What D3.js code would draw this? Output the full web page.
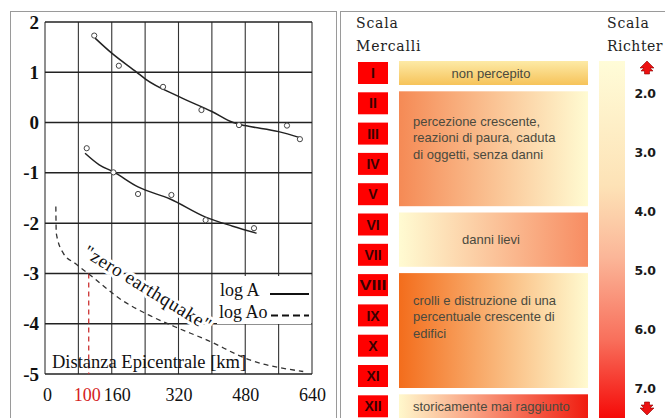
<!DOCTYPE html>
<html>
<head>
<meta charset="utf-8">
<script src="https://cdn.jsdelivr.net/npm/d3@7"></script>
<style>
  body { margin: 0; background: #fff; }
  svg { display: block; }
</style>
</head>
<body>
<script>
// ---- data ----
const xTicks = [0, 100, 160, 320, 480, 640];
const xGrid = [0, 80, 160, 240, 320, 400, 480, 560, 640];
const yTicks = [2, 1, 0, -1, -2, -3, -4, -5];

// log A, first event: measured points and the fitted curve
const logA1Points = [[118, 1.73], [177, 1.13], [283, 0.71], [375, 0.25], [465, -0.05], [580, -0.06], [611, -0.33]];
const logA1Curve = [[120, 1.68], [160, 1.38], [220, 1.0], [240, 0.87], [320, 0.52], [400, 0.22], [451, 0.0], [480, -0.06], [560, -0.18], [611, -0.3]];
// log A, second event
const logA2Points = [[100, -0.51], [164, -0.99], [223, -1.42], [303, -1.44], [385, -1.94], [501, -2.1]];
const logA2Curve = [[96, -0.61], [130, -0.84], [164, -0.98], [223, -1.28], [300, -1.52], [385, -1.88], [450, -2.06], [507, -2.2]];
// log Ao, "zero earthquake"
const logAoCurve = [[26, -1.67], [27, -2.2], [44, -2.6], [72, -2.8], [108, -3.03], [184, -3.53], [247, -3.82], [311, -4.06], [387, -4.32], [491, -4.72], [619, -4.95]];
const refDistance = 100;

const mercalli = ["I", "II", "III", "IV", "V", "VI", "VII", "VIII", "IX", "X", "XI", "XII"];
const effects = [
  { from: "I", to: "I", lines: ["non percepito"], align: "middle" },
  { from: "II", to: "V", lines: ["percezione crescente,", "reazioni di paura, caduta", "di oggetti, senza danni"], align: "start" },
  { from: "VI", to: "VII", lines: ["danni lievi"], align: "middle" },
  { from: "VIII", to: "XI", lines: ["crolli e distruzione di una", "percentuale crescente di", "edifici"], align: "start" },
  { from: "XII", to: "XII", lines: ["storicamente mai raggiunto"], align: "start" }
];
const richterTicks = [2, 3, 4, 5, 6, 7];

// ---- drawing ----
const W = 665, H = 418;
const svg = d3.select("body").append("svg").attr("width", W).attr("height", H);
const defs = svg.append("defs");

// panel frames
svg.append("rect").attr("x", 10.5).attr("y", 11.5).attr("width", 326).attr("height", 430)
  .attr("fill", "none").attr("stroke", "#9a9a9a");
svg.append("rect").attr("x", 340.5).attr("y", 11.5).attr("width", 340).attr("height", 430)
  .attr("fill", "none").attr("stroke", "#9a9a9a");

// ===== left: amplitude vs distance =====
const x = d3.scaleLinear().domain([0, 640]).range([45, 312]);
const y = d3.scaleLinear().domain([-5, 2]).range([374, 22]);
const serif = "'Liberation Serif', 'Times New Roman', serif";

const plot = svg.append("g");

plot.selectAll("line.vgrid").data(xGrid).enter().append("line")
  .attr("class", "vgrid")
  .attr("x1", d => x(d)).attr("x2", d => x(d))
  .attr("y1", y(2)).attr("y2", y(-5))
  .attr("stroke", "#333").attr("stroke-width", 1.1);
plot.selectAll("line.hgrid").data(yTicks).enter().append("line")
  .attr("class", "hgrid")
  .attr("x1", x(0)).attr("x2", x(640))
  .attr("y1", d => y(d)).attr("y2", d => y(d))
  .attr("stroke", "#222").attr("stroke-width", 1.5);

// y tick labels (plain hyphen minus, as in the scan)
const yAxis = plot.append("g").attr("transform", `translate(${x(0)},0)`)
  .call(d3.axisLeft(y).tickValues(yTicks).tickSize(0).tickPadding(6).tickFormat(d => String(d)));
yAxis.select(".domain").remove();
yAxis.selectAll("text").attr("font-family", serif).attr("font-size", 19)
  .attr("font-weight", "bold").attr("fill", "#111");

// x tick labels
const xAxis = plot.append("g").attr("transform", `translate(0,${y(-5)})`)
  .call(d3.axisBottom(x).tickValues(xTicks).tickSize(0).tickPadding(14).tickFormat(d => String(d)));
xAxis.select(".domain").remove();
xAxis.selectAll("text").attr("font-family", serif).attr("font-size", 18)
  .attr("fill", d => d === refDistance ? "#d42020" : "#111")
  .attr("dx", d => d === 160 ? 5 : d === 0 ? 2 : 0);

// reference distance (red dashed)
plot.append("line")
  .attr("x1", x(refDistance) + 2).attr("x2", x(refDistance) + 2)
  .attr("y1", y(-3)).attr("y2", y(-5))
  .attr("stroke", "#cc3333").attr("stroke-width", 1.3).attr("stroke-dasharray", "5,4");

// "zero earthquake" label, on a white band over the grid
plot.append("text")
  .attr("transform", `translate(${x(84) + 2},${y(-2.8) - 8}) rotate(31.5)`)
  .attr("font-family", serif).attr("font-size", 19).attr("letter-spacing", 0.6)
  .attr("fill", "#111").attr("stroke", "#fff").attr("stroke-width", 6)
  .attr("stroke-linejoin", "round").attr("paint-order", "stroke")
  .text("\"zero earthquake\"");

const line = d3.line().x(d => x(d[0])).y(d => y(d[1])).curve(d3.curveMonotoneX);

[logA1Curve, logA2Curve].forEach(c => {
  plot.append("path").attr("d", line(c))
    .attr("fill", "none").attr("stroke", "#222").attr("stroke-width", 1.5);
});
plot.append("path").attr("d", line(logAoCurve))
  .attr("fill", "none").attr("stroke", "#333").attr("stroke-width", 1.3)
  .attr("stroke-dasharray", "5,4");

[logA1Points, logA2Points].forEach(p => {
  plot.selectAll(null).data(p).enter().append("circle")
    .attr("cx", d => x(d[0])).attr("cy", d => y(d[1])).attr("r", 2.6)
    .attr("fill", "#fff").attr("stroke", "#444").attr("stroke-width", 1);
});

plot.append("text").attr("x", 52).attr("y", 368)
  .attr("font-family", serif).attr("font-size", 18.5).attr("fill", "#111")
  .text("Distanza Epicentrale [km]");

// legend
const leg = plot.append("g");
leg.append("rect").attr("x", 217).attr("y", 276).attr("width", x(640) - 217 - 0.8).attr("height", 48)
  .attr("fill", "#fff");
leg.append("text").attr("x", 220).attr("y", 296).attr("font-family", serif).attr("font-size", 18)
  .attr("fill", "#111").text("log A");
leg.append("text").attr("x", 219).attr("y", 318).attr("font-family", serif).attr("font-size", 18)
  .attr("fill", "#111").text("log Ao");
leg.append("line").attr("x1", 270).attr("x2", 309).attr("y1", 294).attr("y2", 294)
  .attr("stroke", "#111").attr("stroke-width", 2);
leg.append("line").attr("x1", 271).attr("x2", 309).attr("y1", 315.5).attr("y2", 315.5)
  .attr("stroke", "#111").attr("stroke-width", 2).attr("stroke-dasharray", "7,4");

// ===== right: Mercalli / Richter =====
const sans = "'Liberation Sans', Arial, sans-serif";
const right = svg.append("g");
const heading = "'DejaVu Serif', serif";

right.append("text").attr("x", 356).attr("y", 28).attr("font-family", heading).attr("font-size", 14)
  .attr("letter-spacing", 0.8).attr("fill", "#222").text("Scala");
right.append("text").attr("x", 356).attr("y", 51).attr("font-family", heading).attr("font-size", 14)
  .attr("letter-spacing", 0.8).attr("fill", "#222").text("Mercalli");
right.append("text").attr("x", 607).attr("y", 28).attr("font-family", heading).attr("font-size", 14)
  .attr("letter-spacing", 0.8).attr("fill", "#222").text("Scala");
right.append("text").attr("x", 607).attr("y", 51).attr("font-family", heading).attr("font-size", 14)
  .attr("letter-spacing", 0.5).attr("fill", "#222").text("Richter");

const band = d3.scaleBand().domain(mercalli).range([62, 417.3]).paddingInner(0.274).paddingOuter(0);

right.selectAll("rect.deg").data(mercalli).enter().append("rect")
  .attr("class", "deg")
  .attr("x", 358).attr("y", d => band(d)).attr("width", 30).attr("height", band.bandwidth())
  .attr("fill", "#ff0000");
right.selectAll("text.deg").data(mercalli).enter().append("text")
  .attr("class", "deg")
  .attr("x", 373).attr("y", d => band(d) + band.bandwidth() / 2).attr("dy", "0.37em")
  .attr("text-anchor", "middle").attr("font-family", sans).attr("font-weight", "bold")
  .attr("font-size", 14).attr("fill", "#3a0000")
  .attr("textLength", d => d.length > 3 ? 27 : null).attr("lengthAdjust", "spacingAndGlyphs")
  .text(d => d);

// gradients for the effect boxes
const grads = [
  { id: "g0", x2: "0%", y2: "100%", stops: ["#fdeaa6", "#f6c35a"] },
  { id: "g1", x2: "100%", y2: "0%", stops: ["#f58a55", "#fffbd2"] },
  { id: "g2", x2: "100%", y2: "0%", stops: ["#fffbd2", "#f78c62"] },
  { id: "g3", x2: "100%", y2: "0%", stops: ["#f36d1c", "#fffad0"] },
  { id: "g4", x2: "100%", y2: "0%", stops: ["#fff8cc", "#f01c10"] }
];
grads.forEach(g => {
  const lg = defs.append("linearGradient").attr("id", g.id)
    .attr("x1", "0%").attr("y1", "0%").attr("x2", g.x2).attr("y2", g.y2);
  g.stops.forEach((c, i) => lg.append("stop").attr("offset", i ? "100%" : "0%").attr("stop-color", c));
});

const textTop = [null, 30, null, 27, null];
effects.forEach((e, i) => {
  const y0 = band(e.from) - 1;
  const y1 = Math.min(band(e.to) + band.bandwidth() + 1, H + 5);
  right.append("rect").attr("x", 399).attr("y", y0).attr("width", 189).attr("height", y1 - y0)
    .attr("fill", `url(#${grads[i].id})`);
  const t = right.append("text").attr("font-family", sans).attr("font-size", 13).attr("fill", "#4a4a3e");
  e.lines.forEach((l, j) => {
    const ty = textTop[i] == null ? (y0 + y1) / 2 : y0 + textTop[i] + j * 16.5;
    t.append("tspan")
      .attr("x", e.align === "middle" ? 491 : 413)
      .attr("y", ty).attr("dy", "0.35em")
      .attr("text-anchor", e.align).text(l);
  });
});

// Richter bar
const rg = defs.append("linearGradient").attr("id", "rich").attr("x1", 0).attr("y1", 0).attr("x2", 0).attr("y2", 1);
[["0%", "#fffcd8"], ["35%", "#fde2b6"], ["55%", "#fbb698"], ["78%", "#f8705c"], ["100%", "#f50a08"]]
  .forEach(s => rg.append("stop").attr("offset", s[0]).attr("stop-color", s[1]));
right.append("rect").attr("x", 599).attr("y", 61).attr("width", 26).attr("height", H - 61)
  .attr("fill", "url(#rich)");

const r = d3.scaleLinear().domain([2, 7]).range([93, 388]);
const rAxis = right.append("g").attr("transform", "translate(645,0)")
  .call(d3.axisRight(r).tickValues(richterTicks).tickSize(0).tickPadding(0).tickFormat(d3.format(".1f")));
rAxis.select(".domain").remove();
rAxis.selectAll("text").attr("text-anchor", "middle").attr("font-family", "'DejaVu Sans', sans-serif")
  .attr("font-weight", "bold").attr("font-size", 12.5).attr("fill", "#1a1a1a")
  .attr("letter-spacing", -0.3);

// arrows
const arrow = "M0,-7 L7,0 L3,0 L6,3 L2.5,3 L2.5,6 L-2.5,6 L-2.5,3 L-6,3 L-3,0 L-7,0 Z";
right.append("path").attr("d", arrow).attr("transform", `translate(647,${r(2) - 25})`)
  .attr("fill", "#ee1111").attr("stroke", "#8a0000").attr("stroke-width", 0.6);
right.append("path").attr("d", arrow).attr("transform", `translate(647,${r(7) + 20}) scale(1,-1)`)
  .attr("fill", "#ee1111").attr("stroke", "#8a0000").attr("stroke-width", 0.6);
</script>
</body>
</html>
